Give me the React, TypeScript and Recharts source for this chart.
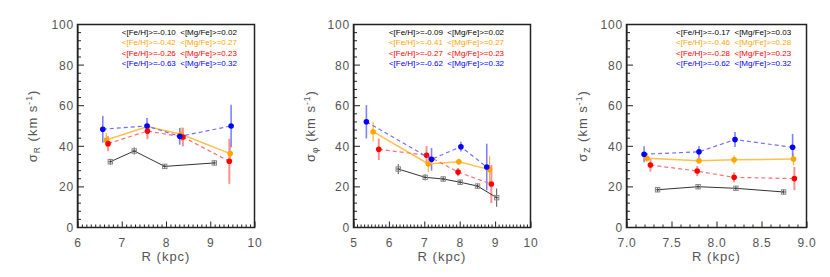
import React from 'react';
import { ScatterChart, Scatter, XAxis, YAxis, ErrorBar } from 'recharts';

// each point: [R (kpc), sigma (km/s), error]
const rBlack = [[6.73, 32.4, 1.5], [7.27, 37.7, 1.8], [7.96, 30.1, 1.2], [9.08, 31.8, 1.2]];
const rOrange = [[6.64, 43.1, 3.5], [7.57, 49.7, 2.5], [8.33, 45.9, 3.3], [9.44, 36.4, 4.5]];
const rRed = [[6.68, 41.3, 3.7], [7.57, 47.5, 4.0], [8.37, 44.6, 4.6], [9.42, 32.6, 11.1]];
const rBlue = [[6.56, 48.4, 6.6], [7.56, 50.0, 3.9], [8.30, 44.9, 4.1], [9.46, 50.0, 10.5]];

const phiBlack = [[6.25, 28.8, 2.5], [7.01, 24.7, 1.5], [7.52, 23.9, 1.2], [8.0, 22.3, 1.2], [8.49, 20.4, 1.2], [9.03, 14.7, 4.5]];
const phiOrange = [[5.54, 47.2, 4.8], [7.10, 31.3, 4.0], [7.96, 32.4, 1.5], [8.83, 28.5, 6.8]];
const phiRed = [[5.70, 38.5, 5.3], [7.05, 35.6, 4.5], [7.94, 27.3, 2.0], [8.88, 21.4, 9.4]];
const phiBlue = [[5.35, 52.1, 8.2], [7.19, 33.6, 5.6], [8.02, 39.8, 2.4], [8.75, 29.8, 11.5]];

const zBlack = [[7.34, 18.6, 1.2], [7.79, 20.1, 1.2], [8.21, 19.3, 1.2], [8.74, 17.5, 1.2]];
const zOrange = [[7.22, 34.1, 2.0], [7.80, 32.9, 1.5], [8.19, 33.4, 2.2], [8.85, 33.7, 3.0]];
const zRed = [[7.26, 30.8, 3.3], [7.78, 27.8, 2.5], [8.19, 24.7, 2.5], [8.86, 24.1, 5.7]];
const zBlue = [[7.19, 36.1, 3.9], [7.80, 37.3, 2.9], [8.20, 43.3, 3.7], [8.84, 39.5, 6.6]];

const legendR = ['<[Fe/H]>=-0.10  <[Mg/Fe]>=0.02', '<[Fe/H]>=-0.42  <[Mg/Fe]>=0.27', '<[Fe/H]>=-0.26  <[Mg/Fe]>=0.23', '<[Fe/H]>=-0.63  <[Mg/Fe]>=0.32'];
const legendPhi = ['<[Fe/H]>=-0.09  <[Mg/Fe]>=0.02', '<[Fe/H]>=-0.41  <[Mg/Fe]>=0.27', '<[Fe/H]>=-0.27  <[Mg/Fe]>=0.23', '<[Fe/H]>=-0.62  <[Mg/Fe]>=0.32'];
const legendZ = ['<[Fe/H]>=-0.17  <[Mg/Fe]>=0.03', '<[Fe/H]>=-0.46  <[Mg/Fe]>=0.28', '<[Fe/H]>=-0.28  <[Mg/Fe]>=0.23', '<[Fe/H]>=-0.62  <[Mg/Fe]>=0.32'];
const legendY = [96.2, 91.1, 86.1, 81.2];

const yMajor = [0, 20, 40, 60, 80, 100];
const yLabels = ['0', '20', '40', '60', '80', '100'];

const TOP = 24.5;
const BOTTOM = 227.5;
const AXIS = '#222';
const TXT = '#555';
const FONT = '"Liberation Sans", Arial, sans-serif';
const legendColors = ['#000000', '#ffa500', '#ff0000', '#0000ff'];

const panels = [
  {
    left: 77.5, right: 254.5, domain: [6, 10], xMajor: [6, 7, 8, 9, 10], xLabels: ['6', '7', '8', '9', '10'],
    sub: 'R', legend: legendR, legendX: 7.0, titleX: 33,
    data: [rBlack, rOrange, rRed, rBlue], exBlack: 0.05,
  },
  {
    left: 353.5, right: 530.5, domain: [5, 10], xMajor: [5, 6, 7, 8, 9, 10], xLabels: ['5', '6', '7', '8', '9', '10'],
    sub: 'φ', legend: legendPhi, legendX: 6.0, titleX: 311,
    data: [phiBlack, phiOrange, phiRed, phiBlue], exBlack: 0.06,
  },
  {
    left: 626.5, right: 806.5, domain: [7, 9], xMajor: [7, 7.5, 8, 8.5, 9], xLabels: ['7.0', '7.5', '8.0', '8.5', '9.0'],
    sub: 'Z', legend: legendZ, legendX: 7.55, titleX: 583,
    data: [zBlack, zOrange, zRed, zBlue], exBlack: 0.025,
  },
];

const steps = (a: number, b: number, s: number) => {
  const out: number[] = [];
  const n = Math.round((b - a) / s);
  for (let i = 0; i <= n; i++) out.push(Math.round((a + i * s) * 1000) / 1000);
  return out;
};

const majorIndex = (majors: number[], v: number) => majors.findIndex((m) => Math.abs(m - v) < 1e-6);

const series = [
  { line: { stroke: '#333', strokeWidth: 1 }, err: '#555', errW: 1, dot: 'square' },
  { line: { stroke: '#ffc04a', strokeWidth: 1.5 }, err: '#ffb52e', errW: 1.2, dot: '#ffa500' },
  { line: { stroke: '#ff7070', strokeWidth: 1.2, strokeDasharray: '4 3' }, err: '#ff9090', errW: 2, dot: '#ff0000' },
  { line: { stroke: '#7070ff', strokeWidth: 1.2, strokeDasharray: '4 3' }, err: '#8080ff', errW: 1.6, dot: '#0000ff' },
];

const Square = (props: any) => (
  <rect x={props.cx - 2.2} y={props.cy - 2.2} width={4.4} height={4.4} fill="none" stroke="#888" strokeWidth={1} />
);
const dotShape = (color: string) => (props: any) => <circle cx={props.cx} cy={props.cy} r={2.8} fill={color} />;

function Panel({ p }: { p: any }) {
  const pw = p.right - p.left;
  const xTicks = steps(p.domain[0], p.domain[1], 0.1);
  const yTicks = steps(0, 100, 4);

  const bottomTick = (t: any) => {
    const i = majorIndex(p.xMajor, t.payload.value);
    return (
      <g>
        <line x1={t.x} x2={t.x} y1={t.y} y2={t.y - (i >= 0 ? 6 : 3)} stroke={AXIS} strokeWidth={1} />
        {i >= 0 && (
          <text x={t.x} y={t.y + 19} textAnchor="middle" fontSize={12} fill={TXT} fontFamily={FONT} letterSpacing={0.8}>
            {p.xLabels[i]}
          </text>
        )}
      </g>
    );
  };
  const topTick = (t: any) => {
    const i = majorIndex(p.xMajor, t.payload.value);
    return <line x1={t.x} x2={t.x} y1={t.y} y2={t.y + (i >= 0 ? 6 : 3)} stroke={AXIS} strokeWidth={1} />;
  };
  const leftTick = (t: any) => {
    const i = majorIndex(yMajor, t.payload.value);
    return (
      <g>
        <line x1={t.x} x2={t.x + (i >= 0 ? 6 : 3)} y1={t.y} y2={t.y} stroke={AXIS} strokeWidth={1} />
        {i >= 0 && (
          <text x={t.x - 4} y={t.y + 4.5} textAnchor="end" fontSize={12} fill={TXT} fontFamily={FONT} letterSpacing={0.8}>
            {yLabels[i]}
          </text>
        )}
      </g>
    );
  };
  const rightTick = (t: any) => {
    const i = majorIndex(yMajor, t.payload.value);
    return <line x1={t.x} x2={t.x - (i >= 0 ? 6 : 3)} y1={t.y} y2={t.y} stroke={AXIS} strokeWidth={1} />;
  };

  return (
    <div style={{ position: 'absolute', left: p.left - 60, top: 0 }}>
      <ScatterChart width={pw + 70} height={277} margin={{ top: TOP, right: 10, bottom: 277 - BOTTOM - 30, left: 20 }}>
        <XAxis xAxisId={0} type="number" dataKey="x" domain={p.domain} allowDataOverflow ticks={xTicks} interval={0}
          tickSize={0} tickMargin={0} tickLine={false} tick={bottomTick} height={30} stroke={AXIS} />
        <XAxis xAxisId="top" orientation="top" type="number" dataKey="x" domain={p.domain} allowDataOverflow ticks={xTicks}
          interval={0} tickSize={0} tickMargin={0} tickLine={false} tick={topTick} height={0} stroke={AXIS} />
        <YAxis yAxisId={0} type="number" dataKey="y" domain={[0, 100]} allowDataOverflow ticks={yTicks} interval={0}
          tickSize={0} tickMargin={0} tickLine={false} tick={leftTick} width={40} stroke={AXIS} />
        <YAxis yAxisId="right" orientation="right" type="number" dataKey="y" domain={[0, 100]} allowDataOverflow ticks={yTicks}
          interval={0} tickSize={0} tickMargin={0} tickLine={false} tick={rightTick} width={0} stroke={AXIS} />
        {p.data.map((pts: number[][], k: number) => {
          const s = series[k];
          const d = pts.map(([x, y, e]) => ({ x, y, ey: e, ex: p.exBlack }));
          return (
            <Scatter key={k} data={d} xAxisId={0} yAxisId={0} isAnimationActive={false} line={s.line} lineType="joint"
              shape={s.dot === 'square' ? Square : dotShape(s.dot)}>
              <ErrorBar dataKey="ey" direction="y" width={0} stroke={s.err} strokeWidth={s.errW} isAnimationActive={false} />
              {k === 0 && <ErrorBar dataKey="ex" direction="x" width={0} stroke={s.err} strokeWidth={1} isAnimationActive={false} />}
            </Scatter>
          );
        })}
      </ScatterChart>
    </div>
  );
}

const yPx = (v: number) => TOP + ((100 - v) / 100) * (BOTTOM - TOP);

export default function App() {
  return (
    <div style={{ position: 'absolute', left: 0, top: 0, width: 830, height: 277, background: '#fff' }}>
      {panels.map((p, i) => <Panel key={i} p={p} />)}
      <svg width={830} height={277} style={{ position: 'absolute', left: 0, top: 0, pointerEvents: 'none' }}>
        {panels.map((p, i) => {
          const xl = p.left + ((p.legendX - p.domain[0]) / (p.domain[1] - p.domain[0])) * (p.right - p.left);
          const cx = (p.left + p.right) / 2;
          const cy = (TOP + BOTTOM) / 2;
          return (
            <g key={i} fontFamily={FONT}>
              <rect x={p.left} y={TOP} width={p.right - p.left} height={BOTTOM - TOP} fill="none" stroke={AXIS} strokeWidth={1.5} />
              {p.legend.map((s: string, j: number) => (
                <text key={j} x={xl} y={yPx(legendY[j]) + 2.9} fontSize={8} fill={legendColors[j]} style={{ whiteSpace: 'pre' }}>
                  {s}
                </text>
              ))}
              <text x={cx} y={261} textAnchor="middle" fontSize={13} fill={TXT} letterSpacing={1}>R (kpc)</text>
              <text transform={`translate(${p.titleX + 4},${cy}) rotate(-90)`} textAnchor="middle" fontSize={13} fill={TXT} letterSpacing={1}>
                σ<tspan fontSize={8.5} dy={3}>{p.sub}</tspan>
                <tspan dy={-3}> (km s</tspan>
                <tspan fontSize={8.5} dy={-5}>-1</tspan>
                <tspan dy={5}>)</tspan>
              </text>
            </g>
          );
        })}
      </svg>
    </div>
  );
}
